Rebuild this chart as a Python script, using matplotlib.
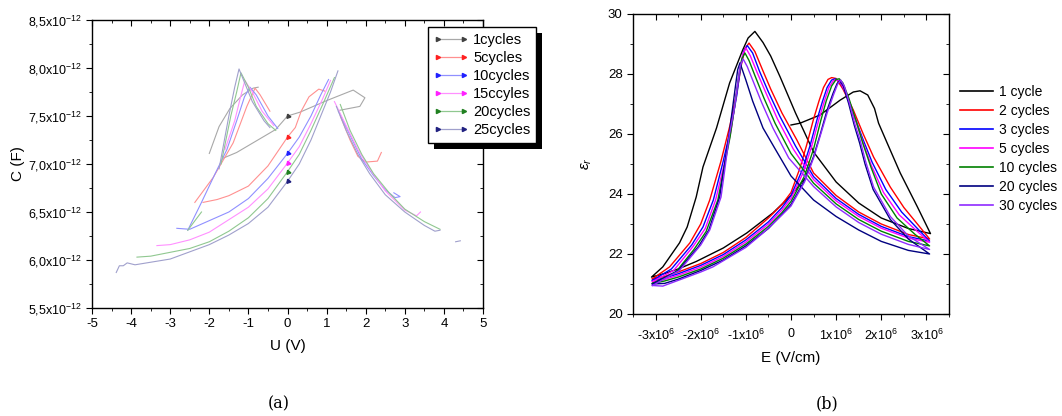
import matplotlib
matplotlib.use('Agg')
import matplotlib.pyplot as plt
import numpy as np
from matplotlib.lines import Line2D
from matplotlib.patches import Rectangle
from matplotlib.ticker import MultipleLocator

plt.rcParams['font.family'] = ['Liberation Sans', 'DejaVu Sans']
plt.rcParams['mathtext.fontset'] = 'custom'
plt.rcParams['mathtext.rm'] = 'Liberation Sans'
plt.rcParams['mathtext.it'] = 'Liberation Sans:italic'
plt.rcParams['axes.unicode_minus'] = False

# ---------------- panel (a): C-U curves, values in units of 1e-12 F ----------------
a_labels = ['1cycles', '5cycles', '10cycles', '15ccyles', '20cycles', '25cycles']
a_colors = ['#a8a8a8', '#ff9090', '#9090ff', '#ff90ff', '#90c890', '#a0a0cc']
a_mcolors = ['#404040', '#ff2020', '#2020ff', '#ff20ff', '#208020', '#202080']

gray_lower = [(0, 7.5), (-0.3, 7.36), (-0.8, 7.24), (-1.3, 7.12), (-1.65, 7.06)]
gray_right = [(0, 7.5), (0.32, 7.54), (1.0, 7.66), (1.68, 7.77), (1.98, 7.69), (1.85, 7.6), (1.34, 7.56)]
gray_left = [(-2.0, 7.11), (-1.75, 7.39), (-1.47, 7.58), (-1.15, 7.72), (-0.88, 7.79), (-0.75, 7.8)]

red_lower = [(0, 7.28), (-0.5, 6.98), (-1.0, 6.77), (-1.5, 6.67), (-1.8, 6.63), (-2.16, 6.6)]
red_right = [(0, 7.28), (0.2, 7.38), (0.35, 7.55), (0.55, 7.7), (0.8, 7.78), (0.95, 7.76)]
red_left = [(-2.37, 6.6), (-1.9, 6.86), (-1.39, 7.22), (-1.04, 7.6), (-0.83, 7.79), (-0.7, 7.72), (-0.45, 7.55)]
red_desc = [(1.35, 7.5), (1.6, 7.25), (1.8, 7.08), (2.0, 7.02), (2.3, 7.03), (2.4, 7.12)]

blue_lower = [(0, 7.11), (-0.5, 6.85), (-1.0, 6.64), (-1.5, 6.5), (-2.0, 6.41), (-2.5, 6.32), (-2.83, 6.33)]
blue_right = [(0, 7.11), (0.3, 7.28), (0.6, 7.5), (0.85, 7.72), (1.05, 7.88)]
blue_left = [(-2.55, 6.31), (-2.2, 6.6), (-1.85, 6.9), (-1.55, 7.15), (-1.3, 7.45), (-1.1, 7.7),
             (-0.96, 7.8), (-0.8, 7.72), (-0.5, 7.5), (-0.25, 7.37)]
blue_desc = [(1.3, 7.55), (1.6, 7.3), (1.9, 7.05), (2.2, 6.88), (2.5, 6.73), (2.75, 6.65), (2.88, 6.66), (2.72, 6.7)]

mag_lower = [(0, 7.01), (-0.5, 6.74), (-1.0, 6.55), (-1.5, 6.42), (-2.0, 6.29), (-2.5, 6.21), (-3.0, 6.16), (-3.34, 6.15)]
mag_right = [(0, 7.01), (0.3, 7.18), (0.6, 7.42), (0.9, 7.68), (1.1, 7.87)]
mag_left = [(-1.6, 7.15), (-1.35, 7.45), (-1.2, 7.7), (-1.09, 7.87), (-0.9, 7.75), (-0.65, 7.55), (-0.35, 7.4)]
mag_desc = [(1.2, 7.65), (1.5, 7.4), (1.8, 7.15), (2.1, 6.95), (2.5, 6.72), (3.0, 6.52), (3.3, 6.46), (3.4, 6.5)]

grn_lower = [(0, 6.92), (-0.5, 6.64), (-1.0, 6.44), (-1.5, 6.3), (-2.0, 6.19), (-2.5, 6.12), (-3.0, 6.08),
             (-3.5, 6.04), (-3.85, 6.03)]
grn_right = [(0, 6.92), (0.3, 7.1), (0.6, 7.35), (0.9, 7.62), (1.2, 7.9)]
grn_left = [(-1.7, 7.0), (-1.45, 7.5), (-1.3, 7.75), (-1.19, 7.95), (-1.0, 7.8), (-0.8, 7.6), (-0.5, 7.42), (-0.3, 7.35)]
grn_desc = [(1.35, 7.62), (1.6, 7.35), (1.9, 7.1), (2.2, 6.9), (2.6, 6.7), (3.0, 6.53), (3.5, 6.4), (3.9, 6.32)]
grn_extra = [(-2.55, 6.31), (-2.2, 6.5)]

nav_lower = [(0, 6.82), (-0.5, 6.55), (-1.0, 6.38), (-1.5, 6.26), (-2.0, 6.16), (-3.0, 6.01), (-3.9, 5.95),
             (-4.1, 5.97), (-4.2, 5.94), (-4.3, 5.94), (-4.38, 5.87)]
nav_right = [(0, 6.82), (0.3, 7.0), (0.6, 7.25), (0.9, 7.55), (1.1, 7.75), (1.29, 7.97)]
nav_left = [(-1.75, 6.95), (-1.5, 7.5), (-1.35, 7.8), (-1.24, 7.99), (-1.1, 7.85), (-0.9, 7.65), (-0.6, 7.45), (-0.45, 7.38)]
nav_desc = [(1.25, 7.6), (1.5, 7.35), (1.8, 7.1), (2.1, 6.9), (2.5, 6.68), (3.0, 6.5), (3.5, 6.36), (3.77, 6.3), (3.9, 6.31)]
nav_extra = [(4.3, 6.19), (4.42, 6.2)]

a_curves = [
    [gray_lower, gray_right, gray_left],
    [red_lower, red_right, red_left, red_desc],
    [blue_lower, blue_right, blue_left, blue_desc],
    [mag_lower, mag_right, mag_left, mag_desc],
    [grn_lower, grn_right, grn_left, grn_desc, grn_extra],
    [nav_lower, nav_right, nav_left, nav_desc, nav_extra],
]
a_yticks = [5.5, 6.0, 6.5, 7.0, 7.5, 8.0, 8.5]

# ---------------- panel (b): eps_r - E loops, E in units of 1e6 V/cm ----------------
b_labels = ['1 cycle', '2 cycles', '3 cycles', '5 cycles', '10 cycles', '20 cycles', '30 cycles']
b_colors = ['#000000', '#ff0000', '#0000ff', '#ff00ff', '#008000', '#000080', '#8f2bff']

blk_loop = [(0.0, 26.3), (0.2, 26.36), (0.64, 26.63), (1.09, 27.13), (1.38, 27.4), (1.53, 27.44),
            (1.7, 27.3), (1.85, 26.85), (1.94, 26.36), (2.13, 25.7), (2.42, 24.7), (2.8, 23.57), (3.09, 22.68),
            (2.6, 22.85), (2.0, 23.2), (1.5, 23.7), (1.0, 24.4), (0.5, 25.4), (0.1, 26.7), (-0.24, 27.9),
            (-0.45, 28.6), (-0.62, 29.05), (-0.8, 29.42), (-0.95, 29.2), (-1.07, 28.8), (-1.36, 27.7),
            (-1.65, 26.2), (-1.95, 24.9), (-2.1, 23.9), (-2.3, 22.9), (-2.47, 22.37), (-2.84, 21.57), (-3.09, 21.23),
            (-2.8, 21.35), (-2.5, 21.5), (-2.1, 21.75), (-1.5, 22.2), (-0.98, 22.7), (-0.4, 23.37), (0.0, 23.95),
            (0.3, 24.5)]

red_loop = [(-3.07, 21.17), (-2.8, 21.25), (-2.5, 21.4), (-2.0, 21.68), (-1.5, 22.05), (-1.0, 22.55), (-0.5, 23.2),
            (-0.2, 23.65), (0.0, 24.05), (0.2, 24.87), (0.35, 25.65), (0.5, 26.5), (0.62, 27.1), (0.72, 27.55),
            (0.82, 27.82), (0.9, 27.88), (1.0, 27.85), (1.15, 27.5), (1.38, 26.8), (1.6, 26.0), (1.83, 25.23),
            (2.2, 24.23), (2.5, 23.55), (2.8, 23.0), (3.07, 22.5), (2.6, 22.65), (2.0, 23.0), (1.5, 23.4),
            (1.0, 23.95), (0.5, 24.7), (0.13, 25.8), (-0.2, 26.7), (-0.45, 27.5), (-0.62, 28.1), (-0.8, 28.75),
            (-0.93, 29.03), (-1.02, 28.85), (-1.1, 28.3), (-1.2, 27.4), (-1.35, 26.3), (-1.55, 25.1), (-1.8, 23.8),
            (-2.0, 23.0), (-2.24, 22.37), (-2.69, 21.57), (-3.07, 21.17)]

blu_loop = [(-3.07, 21.12), (-2.8, 21.2), (-2.5, 21.34), (-2.0, 21.62), (-1.5, 21.98), (-1.0, 22.47), (-0.5, 23.07),
            (-0.2, 23.55), (0.0, 23.95), (0.25, 24.8), (0.42, 25.6), (0.58, 26.5), (0.7, 27.1), (0.8, 27.55),
            (0.9, 27.8), (0.98, 27.84), (1.08, 27.75), (1.22, 27.35), (1.4, 26.6), (1.6, 25.8), (1.8, 25.05),
            (2.1, 24.15), (2.45, 23.4), (2.8, 22.85), (3.07, 22.43), (2.6, 22.58), (2.0, 22.92), (1.5, 23.32),
            (1.0, 23.85), (0.5, 24.58), (0.1, 25.6), (-0.25, 26.6), (-0.5, 27.4), (-0.7, 28.1), (-0.85, 28.7),
            (-0.97, 28.95), (-1.05, 28.75), (-1.12, 28.2), (-1.2, 27.3), (-1.33, 26.2), (-1.5, 25.1), (-1.72, 23.8),
            (-1.95, 22.9), (-2.2, 22.3), (-2.65, 21.5), (-3.07, 21.12)]

mag_loop = [(-3.07, 21.08), (-2.8, 21.15), (-2.5, 21.29), (-2.0, 21.56), (-1.5, 21.92), (-1.0, 22.4), (-0.5, 23.0),
            (-0.2, 23.47), (0.0, 23.85), (0.28, 24.75), (0.46, 25.6), (0.62, 26.5), (0.74, 27.1), (0.84, 27.55),
            (0.94, 27.78), (1.01, 27.82), (1.1, 27.72), (1.25, 27.25), (1.42, 26.5), (1.6, 25.7), (1.78, 24.95),
            (2.05, 24.05), (2.4, 23.3), (2.8, 22.75), (3.07, 22.39), (2.6, 22.53), (2.0, 22.86), (1.5, 23.25),
            (1.0, 23.77), (0.5, 24.48), (0.05, 25.5), (-0.3, 26.5), (-0.55, 27.35), (-0.75, 28.05), (-0.9, 28.6),
            (-1.0, 28.87), (-1.07, 28.65), (-1.14, 28.1), (-1.22, 27.2), (-1.33, 26.1), (-1.48, 25.0), (-1.67, 23.8),
            (-1.9, 22.85), (-2.17, 22.25), (-2.6, 21.45), (-3.07, 21.08)]

grn_loop = [(-3.07, 21.02), (-2.8, 21.1), (-2.5, 21.23), (-2.0, 21.5), (-1.5, 21.86), (-1.0, 22.33), (-0.5, 22.92),
            (-0.2, 23.38), (0.0, 23.75), (0.3, 24.6), (0.5, 25.5), (0.66, 26.45), (0.78, 27.1), (0.9, 27.6),
            (1.0, 27.82), (1.07, 27.84), (1.15, 27.7), (1.28, 27.2), (1.45, 26.4), (1.6, 25.65), (1.77, 24.9),
            (2.0, 24.0), (2.35, 23.2), (2.75, 22.65), (3.07, 22.27), (2.6, 22.42), (2.0, 22.76), (1.5, 23.15),
            (1.0, 23.67), (0.5, 24.36), (0.0, 25.35), (-0.35, 26.35), (-0.6, 27.2), (-0.8, 27.95), (-0.93, 28.45),
            (-1.02, 28.7), (-1.09, 28.5), (-1.16, 27.9), (-1.24, 27.0), (-1.35, 25.9), (-1.48, 24.9), (-1.62, 23.8),
            (-1.88, 22.75), (-2.15, 22.15), (-2.55, 21.4), (-3.07, 21.02)]

nav_loop = [(-3.07, 21.0), (-2.8, 21.02), (-2.5, 21.16), (-2.0, 21.45), (-1.5, 21.8), (-1.0, 22.27), (-0.5, 22.85),
            (-0.2, 23.32), (0.0, 23.65), (0.3, 24.45), (0.5, 25.25), (0.65, 26.0), (0.8, 26.8), (0.93, 27.35),
            (1.02, 27.68), (1.08, 27.78), (1.16, 27.6), (1.28, 27.0), (1.4, 26.3), (1.52, 25.7), (1.64, 25.0),
            (1.82, 24.15), (2.2, 23.15), (2.6, 22.5), (3.07, 22.0), (2.6, 22.12), (2.0, 22.42), (1.5, 22.8),
            (1.0, 23.25), (0.5, 23.8), (0.0, 24.6), (-0.35, 25.5), (-0.62, 26.2), (-0.85, 27.1), (-1.0, 27.8),
            (-1.13, 28.37), (-1.18, 28.15), (-1.23, 27.6), (-1.3, 26.8), (-1.38, 25.9), (-1.47, 25.0), (-1.58, 23.9),
            (-1.82, 22.8), (-2.05, 22.25), (-2.5, 21.45), (-3.07, 21.0)]

pur_loop = [(-3.07, 20.95), (-2.84, 20.93), (-2.5, 21.12), (-2.0, 21.4), (-1.73, 21.57), (-1.0, 22.22), (-0.62, 22.7),
            (-0.2, 23.3), (0.0, 23.6), (0.3, 24.4), (0.5, 25.2), (0.64, 25.9), (0.8, 26.7), (0.94, 27.3),
            (1.03, 27.65), (1.1, 27.8), (1.18, 27.6), (1.3, 27.0), (1.42, 26.3), (1.53, 25.8), (1.65, 25.1),
            (1.83, 24.23), (2.2, 23.25), (2.6, 22.6), (3.07, 22.15), (2.6, 22.32), (2.0, 22.66), (1.5, 23.05),
            (1.0, 23.57), (0.5, 24.25), (-0.05, 25.2), (-0.4, 26.2), (-0.65, 27.05), (-0.85, 27.8), (-0.97, 28.25),
            (-1.06, 28.5), (-1.12, 28.3), (-1.18, 27.7), (-1.26, 26.8), (-1.36, 26.03), (-1.45, 25.0), (-1.55, 23.9),
            (-1.8, 22.8), (-2.0, 22.3), (-2.47, 21.45), (-3.07, 20.95)]

b_loops = [blk_loop, red_loop, blu_loop, mag_loop, grn_loop, nav_loop, pur_loop]
b_xticks = [-3, -2, -1, 0, 1, 2, 3]

fig = plt.figure(figsize=(10.62, 4.16), dpi=100)
ax1 = fig.add_axes([92/1062, 1-308/416, 391/1062, 288/416])
ax2 = fig.add_axes([633/1062, 1-314/416, 316/1062, 300/416])

for ax in (ax1, ax2):
    ax.tick_params(which='both', top=True, right=True, labelsize=9.5)
    ax.tick_params(which='major', length=4)
    ax.tick_params(which='minor', length=2.5)
    ax.tick_params(axis='x', which='both', direction='out')
    ax.tick_params(axis='y', which='both', direction='out')
    for sp in ax.spines.values():
        sp.set_linewidth(1.0)

# panel (a)
for i in range(len(a_labels)):
    for seg in a_curves[i]:
        pts = np.array(seg)
        ax1.plot(pts[:, 0], pts[:, 1]*1e-12, color=a_colors[i], lw=0.8)
    start = np.array(a_curves[i][0])[0]
    ax1.plot(start[0], start[1]*1e-12, marker=(3, 0, 20), ms=3.5, color=a_mcolors[i], ls='none')

ax1.set_xlim(-5, 5)
ax1.set_ylim(5.5e-12, 8.5e-12)
ax1.xaxis.set_major_locator(MultipleLocator(1))
ax1.xaxis.set_minor_locator(MultipleLocator(0.5))
ax1.set_yticks([v*1e-12 for v in a_yticks])
ax1.set_yticklabels([('%.1f' % v).replace('.', ',') + r'x10$^{\mathregular{-12}}$' for v in a_yticks])
ax1.yaxis.set_minor_locator(MultipleLocator(0.25e-12))
ax1.tick_params(axis='y', labelsize=9)
ax1.set_xlabel('U (V)', fontsize=11, labelpad=6)
ax1.set_ylabel('C (F)', fontsize=11, labelpad=2)

handles_a = [Line2D([0], [0], color=a_colors[i], lw=0.9, marker='>', ms=3,
                    mfc=a_mcolors[i], mec=a_mcolors[i]) for i in range(len(a_labels))]
leg1 = fig.legend(handles_a, a_labels, loc='upper left', bbox_to_anchor=(428/1062, 1-27/416),
                  frameon=True, fancybox=False, edgecolor='black', facecolor='white', framealpha=1,
                  fontsize=10.5, numpoints=2, handlelength=2.4, handletextpad=0.3, labelspacing=0.28,
                  borderpad=0.4, borderaxespad=0)
leg1.get_frame().set_linewidth(1.0)
leg1.set_zorder(5)

# panel (b)
for i in range(len(b_labels)):
    pts = np.array(b_loops[i])
    ax2.plot(pts[:, 0]*1e6, pts[:, 1], color=b_colors[i], lw=1.0)

ax2.set_xlim(-3.5e6, 3.5e6)
ax2.set_ylim(20, 30)
ax2.set_xticks([v*1e6 for v in b_xticks])
ax2.set_xticklabels(['0' if v == 0 else '%dx10$^{\\mathregular{6}}$' % v for v in b_xticks])
ax2.xaxis.set_minor_locator(MultipleLocator(0.5e6))
ax2.yaxis.set_major_locator(MultipleLocator(2))
ax2.yaxis.set_minor_locator(MultipleLocator(1))
ax2.tick_params(axis='x', labelsize=9, pad=6)
ax2.set_xlabel('E (V/cm)', fontsize=11, labelpad=6)
ax2.set_ylabel(r'$\varepsilon_r$', fontsize=11, labelpad=10)

handles_b = [Line2D([0], [0], color=b_colors[i], lw=1.2) for i in range(len(b_labels))]
fig.legend(handles_b, b_labels, loc='upper left', bbox_to_anchor=(960/1062, 1-85/416),
           frameon=False, fontsize=10, handlelength=2.4, handletextpad=0.4, labelspacing=0.36,
           borderpad=0, borderaxespad=0)

# Origin-like inward ticks on top and right
for ax in (ax1, ax2):
    for t in ax.xaxis.get_major_ticks() + ax.xaxis.get_minor_ticks():
        t.tick2line.set_marker(3)
    for t in ax.yaxis.get_major_ticks() + ax.yaxis.get_minor_ticks():
        t.tick2line.set_marker(0)

fig.text(279/1062, 1-404/416, '(a)', ha='center', va='center', fontsize=11.5, family='DejaVu Serif')
fig.text(827/1062, 1-404/416, '(b)', ha='center', va='center', fontsize=11.5, family='DejaVu Serif')

# black shadow behind the legend of panel (a)
fig.canvas.draw()
bb = leg1.get_window_extent().transformed(fig.transFigure.inverted())
shadow = Rectangle((bb.x0 + 6/1062, bb.y0 - 6/416), bb.width, bb.height, transform=fig.transFigure,
                   facecolor='black', edgecolor='none', zorder=4)
fig.add_artist(shadow)

fig.savefig('out.png', dpi=100)
